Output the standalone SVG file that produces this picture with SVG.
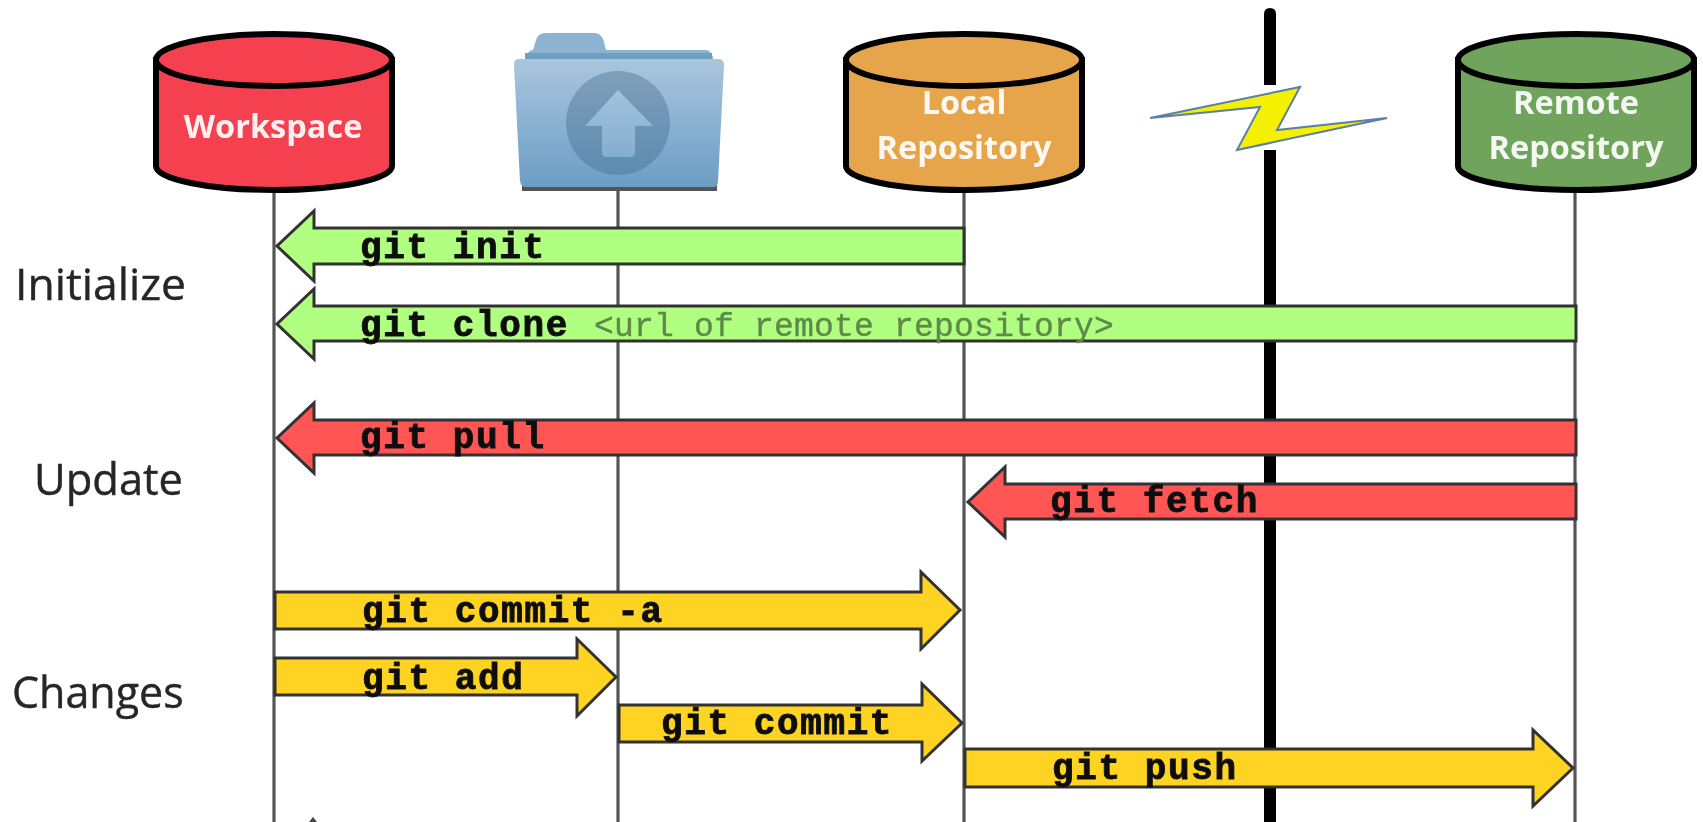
<svg xmlns="http://www.w3.org/2000/svg" width="1703" height="822" viewBox="0 0 1703 822">
<style>
.life{stroke:#555;stroke-width:3.2;fill:none}
.arr{stroke:#333;stroke-width:3;stroke-linejoin:miter}
.g{fill:#b0ff80}.r{fill:#ff5555}.y{fill:#ffd324}
.cmd{font-family:"Liberation Mono",monospace;font-weight:bold;font-size:36px;letter-spacing:1.6px;fill:#111;stroke:#111;stroke-width:.9px}
.url{font-family:"Liberation Mono",monospace;font-size:33px;letter-spacing:.2px;fill:#5d8a4a;stroke:#5d8a4a;stroke-width:.4px}
.lab{font-family:"Open Sans","Liberation Sans",sans-serif;fill:#262626;stroke:#262626;stroke-width:.4px}
.cyl{font-family:"Open Sans","Liberation Sans",sans-serif;font-weight:bold;font-size:32.5px;fill:#fff;fill-opacity:.92;text-anchor:middle}
.can{stroke:#000;stroke-width:6}
</style>
<defs>
<filter id="soft" x="0" y="0" width="100%" height="100%" filterUnits="objectBoundingBox"><feGaussianBlur stdDeviation="0.7"/></filter>
<linearGradient id="fold" x1="0" y1="0" x2="0" y2="1"><stop offset="0" stop-color="#a9c6de"/><stop offset="1" stop-color="#6c9dc4"/></linearGradient>
<linearGradient id="fcirc" x1="0" y1="0" x2="0" y2="1"><stop offset="0" stop-color="#7f9fba"/><stop offset="1" stop-color="#5c8bb0"/></linearGradient>
<linearGradient id="farrow" x1="0" y1="0" x2="0" y2="1"><stop offset="0" stop-color="#a2c3dc"/><stop offset="1" stop-color="#84aed0"/></linearGradient>
</defs>
<rect width="1703" height="822" fill="#fff"/>
<g filter="url(#soft)">
<rect width="1703" height="822" fill="#fff"/>
<g id="connectors">
<line class="life" x1="274" y1="190" x2="274" y2="822"/>
<line class="life" x1="618" y1="187" x2="618" y2="822"/>
<line class="life" x1="964" y1="190" x2="964" y2="822"/>
<line class="life" x1="1575" y1="190" x2="1575" y2="822"/>
<path d="M1264 85V14Q1264 8 1270 8T1276 14V85Z" fill="#000"/>
<rect x="1264" y="150" width="12" height="672" fill="#000"/>
<polygon class="arr g" points="964,228 314,228 314,211 277,246 314,281 314,264 964,264"/>
<polygon class="arr g" points="1576,306 314,306 314,289 277,324 314,359 314,341 1576,341"/>
<polygon class="arr r" points="1576,420 314,420 314,403 277,438 314,473 314,455 1576,455"/>
<polygon class="arr r" points="1576,484 1005,484 1005,467 968,502 1005,537 1005,519 1576,519"/>
<polygon class="arr y" points="275,592 921,592 921,572 960,610 921,649 921,629 275,629"/>
<polygon class="arr y" points="275,658 577,658 577,639 616,677 577,716 577,695 275,695"/>
<polygon class="arr y" points="619,705 922,705 922,684 962,723 922,761 922,742 619,742"/>
<polygon class="arr y" points="965,749 1533,749 1533,730 1573,768 1533,806 1533,787 965,787"/>
<polygon points="309,822 313,817 317,822" fill="#444"/>
</g>
<g id="workspace">
<path class="can" d="M156 60V166A118 24 0 0 0 392 166V60Z" fill="#f5404f"/>
<ellipse class="can" cx="274" cy="60" rx="118" ry="26" fill="#f5404f"/>
<text class="cyl" x="273" y="138">Workspace</text>
</g>
<g id="staging">
<path d="M525 62L527 54Q530 50 533 50L536 40Q538 33 546 33H594Q602 33 604 42L606 50H706Q712 50 714 62Z" fill="#8db3d2"/>
<rect x="525" y="53" width="187" height="7" fill="#6f9fc4"/>
<rect x="522" y="184" width="195" height="7" fill="#555"/>
<path d="M518 59H719Q724 59 724 65L718 181Q718 187 713 187H526Q521 187 520 181L514 65Q514 59 518 59Z" fill="url(#fold)"/>
<circle cx="618" cy="123" r="52" fill="url(#fcirc)"/>
<path d="M618 90L653 126H635V152Q635 157 630 157H607Q602 157 602 152V126H585Z" fill="url(#farrow)"/>
</g>
<g id="local-repo">
<path class="can" d="M846 60V166A118 24 0 0 0 1082 166V60Z" fill="#e6a44c"/>
<ellipse class="can" cx="964" cy="60" rx="118" ry="26" fill="#e6a44c"/>
<text class="cyl" x="964" y="114">Local</text>
<text class="cyl" x="964" y="159">Repository</text>
</g>
<g id="network">
<polygon points="1150,118 1300,87 1277,130 1387,118 1237,150 1260,107" fill="#f5f000" stroke="#5a7fa8" stroke-width="2"/>
</g>
<g id="remote-repo">
<path class="can" d="M1458 60V166A118 24 0 0 0 1694 166V60Z" fill="#70a35b"/>
<ellipse class="can" cx="1576" cy="60" rx="118" ry="26" fill="#70a35b"/>
<text class="cyl" x="1576" y="114">Remote</text>
<text class="cyl" x="1576" y="159">Repository</text>
</g>
<g id="labels">
<text class="lab" x="15" y="300" font-size="44.5">Initialize</text>
<text class="lab" x="34" y="495" font-size="43.5">Update</text>
<text class="lab" x="12" y="708" font-size="43">Changes</text>
<text class="cmd" x="360" y="258">git init</text>
<text class="cmd" x="360" y="336">git clone</text>
<text class="url" x="594" y="336">&lt;url of remote repository&gt;</text>
<text class="cmd" x="360" y="448">git pull</text>
<text class="cmd" x="1050" y="512">git fetch</text>
<text class="cmd" x="362" y="622">git commit -a</text>
<text class="cmd" x="362" y="689">git add</text>
<text class="cmd" x="661" y="734">git commit</text>
<text class="cmd" x="1052" y="779">git push</text>
</g>
</g>
</svg>
